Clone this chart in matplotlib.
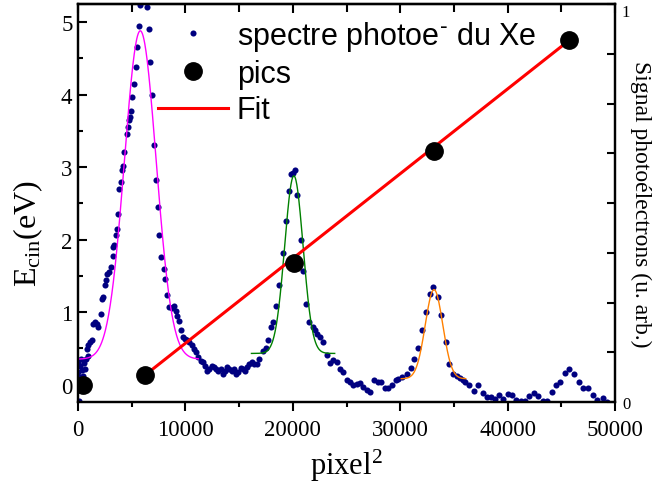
import numpy as np
import matplotlib
matplotlib.use("Agg")
import matplotlib.pyplot as plt
from matplotlib.lines import Line2D
from matplotlib.ticker import MultipleLocator, FixedLocator, FixedFormatter
from matplotlib.font_manager import FontProperties

plt.rcParams['font.family'] = ['Liberation Serif', 'DejaVu Serif']
plt.rcParams['mathtext.fontset'] = 'custom'
plt.rcParams['mathtext.rm'] = 'Liberation Serif'
plt.rcParams['mathtext.it'] = 'Liberation Serif:italic'
plt.rcParams['mathtext.bf'] = 'Liberation Serif:bold'

# ---------------- data ----------------
# photoelectron spectrum (x in pixel^2, y expressed in the left-axis units)
spec_x = [20, 40, 60, 90, 121, 150, 200, 250, 300, 341,
          400, 496, 560, 652, 750, 810, 962, 962, 1117, 1272,
          1427, 1583, 1738, 1893, 2110, 2265, 2358, 2514, 2607, 2731,
          2917, 3041, 3228, 3290, 3383, 3507, 3600, 3755, 3848, 3972,
          4066, 4159, 4314, 4531, 4624, 4748, 4841, 4903, 5059, 5214,
          5369, 5524, 5679, 5772, 6393, 6610, 6734, 6858, 7076, 7262,
          7417, 7572, 7728, 7976, 8131, 8317, 8503, 8721, 8938, 9124,
          9248, 9403, 9590, 9807, 9962, 10117, 10365, 10585, 10800, 10986,
          11203, 11420, 11607, 11824, 12041, 12227, 12444, 12662, 12848, 13065,
          13283, 13469, 13686, 13903, 14090, 14307, 14524, 14710, 14927, 15145,
          15331, 15548, 15765, 15952, 16169, 16386, 16635, 16883, 17255, 17504,
          17721, 17938, 18124, 18434, 18745, 19055, 19365, 19614, 19800, 20048,
          20203, 20421, 20731, 20979, 21228, 21538, 21848, 22065, 22282, 22530,
          22840, 23150, 23461, 23771, 24082, 24392, 24702, 25013, 25323, 25634,
          25944, 26254, 26565, 26875, 27185, 27589, 27899, 28209, 28582, 28892,
          29265, 29575, 29823, 30196, 30599, 31002, 31312, 31685, 31995, 32368,
          32771, 33082, 33485, 33795, 34230, 34571, 34943, 35254, 35564, 35874,
          36030, 36433, 36868, 37271, 37675, 38047, 38420, 38823, 39226, 39599,
          40003, 40375, 40778, 41213, 41616, 42019, 42454, 42857, 43261, 43695,
          44099, 44502, 44874, 45340, 45743, 46209, 46612, 47047, 47481, 47916,
          48351, 48848, 49220]
spec_y = [0.30, 0.18, 0.05, -0.08, -0.22, 0.10, 0.25, -0.02, 0.36, 0.03,
          0.20, 0.12, 0.30, 0.22, 0.35, 0.49, 0.40, 0.54, 0.59, 0.61,
          0.84, 0.86, 0.84, 0.79, 0.98, 1.18, 1.21, 1.37, 1.44, 1.53,
          1.55, 1.62, 1.78, 1.90, 1.92, 2.06, 2.15, 2.36, 2.70, 2.80,
          2.96, 3.02, 3.21, 3.46, 3.56, 3.65, 3.69, 3.78, 3.97, 4.15,
          4.38, 4.66, 4.94, 5.23, 5.21, 4.91, 4.45, 3.99, 3.30, 2.82,
          2.45, 2.06, 1.76, 1.60, 1.46, 1.23, 1.07, 1.05, 1.09, 1.02,
          0.95, 0.88, 0.75, 0.65, 0.63, 0.61, 0.59, 0.54, 0.49, 0.45,
          0.38, 0.33, 0.31, 0.26, 0.19, 0.22, 0.26, 0.24, 0.22, 0.19,
          0.22, 0.15, 0.19, 0.24, 0.22, 0.19, 0.22, 0.15, 0.17, 0.23,
          0.22, 0.19, 0.24, 0.29, 0.31, 0.29, 0.29, 0.36, 0.47, 0.50,
          0.61, 0.79, 0.87, 1.09, 1.37, 1.81, 2.25, 2.67, 2.91, 2.92,
          2.96, 2.61, 1.99, 1.57, 1.11, 0.86, 0.79, 0.75, 0.70, 0.66,
          0.59, 0.41, 0.30, 0.34, 0.31, 0.22, 0.18, 0.06, 0.03, -0.01,
          0.01, 0.02, -0.03, -0.08, -0.10, 0.06, 0.03, 0.03, -0.04, -0.05,
          -0.01, 0.06, 0.08, 0.10, 0.15, 0.23, 0.35, 0.50, 0.76, 1.00,
          1.25, 1.35, 1.21, 0.96, 0.59, 0.29, 0.15, 0.12, 0.09, 0.06,
          0.03, 0.00, -0.09, -0.01, -0.11, -0.17, -0.17, -0.20, -0.15, -0.20,
          -0.13, -0.15, -0.21, -0.23, -0.22, -0.16, -0.12, -0.16, -0.23, -0.22,
          -0.10, 0.00, 0.04, 0.16, 0.22, 0.15, 0.03, -0.04, -0.05, -0.14,
          -0.21, -0.19, -0.24]

# peak positions (pixel^2) and kinetic energies (eV)
pics_x = [500, 6238, 20110, 33144, 45743]
pics_y = [-0.01, 0.13, 1.68, 3.22, 4.75]

# linear fit line
fit_x = [6238, 45743]
fit_y = [0.13, 4.75]

# gaussian fits of the three peaks: centre, amplitude, sigma, baseline, x-range
gauss_center = [5800, 20100, 33150]
gauss_amp = [4.53, 2.45, 1.23]
gauss_sigma = [1475, 855, 815]
gauss_base = [0.35, 0.43, 0.08]
gauss_start = [0, 16150, 30100]
gauss_end = [11200, 23900, 36100]
gauss_colors = ['#ff00ff', '#008000', '#ff8000']

# ---------------- figure ----------------
W, H = 657, 485
fig = plt.figure(figsize=(W / 100, H / 100), dpi=100)
ax = fig.add_axes([78 / W, 82 / H, 537 / W, 398 / H])

ax.plot(spec_x, spec_y, 'o', ls='none', color='#000080', ms=4.4, mec='none', zorder=2)

for c, a, s, b, x0, x1, col in zip(gauss_center, gauss_amp, gauss_sigma, gauss_base,
                                   gauss_start, gauss_end, gauss_colors):
    xx = np.linspace(x0, x1, 300)
    yy = b + a * np.exp(-0.5 * ((xx - c) / s) ** 2)
    ax.plot(xx, yy, color=col, lw=1.0, zorder=3)

ax.plot(fit_x, fit_y, color='red', lw=2.2, zorder=4, solid_capstyle='butt')
ax.plot(pics_x, pics_y, 'o', ls='none', color='black', ms=12.5, zorder=5)

ax.set_xlim(0, 50000)
ax.set_ylim(-0.24, 5.25)

for sp in ax.spines.values():
    sp.set_linewidth(1.6)

ax.xaxis.set_major_locator(MultipleLocator(10000))
ax.xaxis.set_minor_locator(MultipleLocator(5000))
ax.yaxis.set_major_locator(MultipleLocator(1))
ax.yaxis.set_minor_locator(MultipleLocator(0.5))

ax.tick_params(axis='x', which='both', direction='out', top=False, width=1.5,
               labelsize=16.5, pad=5.5)
ax.tick_params(axis='x', which='major', length=6.5)
ax.tick_params(axis='x', which='minor', length=3.5)
ax.tick_params(axis='y', which='both', direction='in', right=False, width=1.5,
               labelsize=16.5, pad=4)
ax.tick_params(axis='y', which='major', length=6.5)
ax.tick_params(axis='y', which='minor', length=3.5)

# top ticks pointing inward
top = ax.secondary_xaxis('top')
top.xaxis.set_major_locator(MultipleLocator(10000))
top.xaxis.set_minor_locator(MultipleLocator(5000))
top.tick_params(axis='x', which='both', direction='in', labeltop=False, width=1.5)
top.tick_params(axis='x', which='major', length=6.5)
top.tick_params(axis='x', which='minor', length=6)
top.spines['top'].set_linewidth(1.6)

ax.set_xlabel(r'pixel$^{2}$', fontsize=22, labelpad=5)
ax.set_ylabel(r'E$_{\mathrm{cin}}$(eV)', fontsize=23)
ax.yaxis.set_label_coords(-0.062, 0.425)

# right axis: photoelectron signal
ax2 = ax.twinx()
ax2.set_ylim(0, 1)
right_ticks = [0, 0.125, 0.25, 0.375, 0.5, 0.625, 0.75, 0.875, 1]
right_labels = ['0', '', '', '', '', '', '', '', '1']
ax2.yaxis.set_major_locator(FixedLocator(right_ticks))
ax2.yaxis.set_major_formatter(FixedFormatter(right_labels))
ax2.tick_params(axis='y', direction='in', length=6, width=1.5, labelsize=12, pad=5)
ax2.yaxis.get_major_ticks(len(right_ticks))[-1].label2.set_verticalalignment('top')
ax2.set_ylabel('Signal photoélectrons (u. arb.)', fontsize=17, rotation=-90, labelpad=15)
for sp in ax2.spines.values():
    sp.set_linewidth(1.6)

# legend
handles = [
    Line2D([], [], ls='none', marker='o', color='#000080', ms=4.4, mec='none'),
    Line2D([], [], ls='none', marker='o', color='black', ms=12.5),
    Line2D([], [], color='red', lw=2.2),
]
labels = [r'spectre photoe$^{\text{-}}$ du Xe', 'pics', 'Fit']
lp = FontProperties(family=['Liberation Sans', 'DejaVu Sans'], size=22,
                    math_fontfamily='dejavusans')
leg = ax2.legend(handles, labels, loc='upper left', bbox_to_anchor=(158 / W, 1 - 20 / H),
                 bbox_transform=fig.transFigure, frameon=False, prop=lp,
                 handlelength=2.3, handletextpad=0.28, labelspacing=0.2,
                 borderpad=0, borderaxespad=0, numpoints=1)

fig.savefig('out.png', dpi=100)
